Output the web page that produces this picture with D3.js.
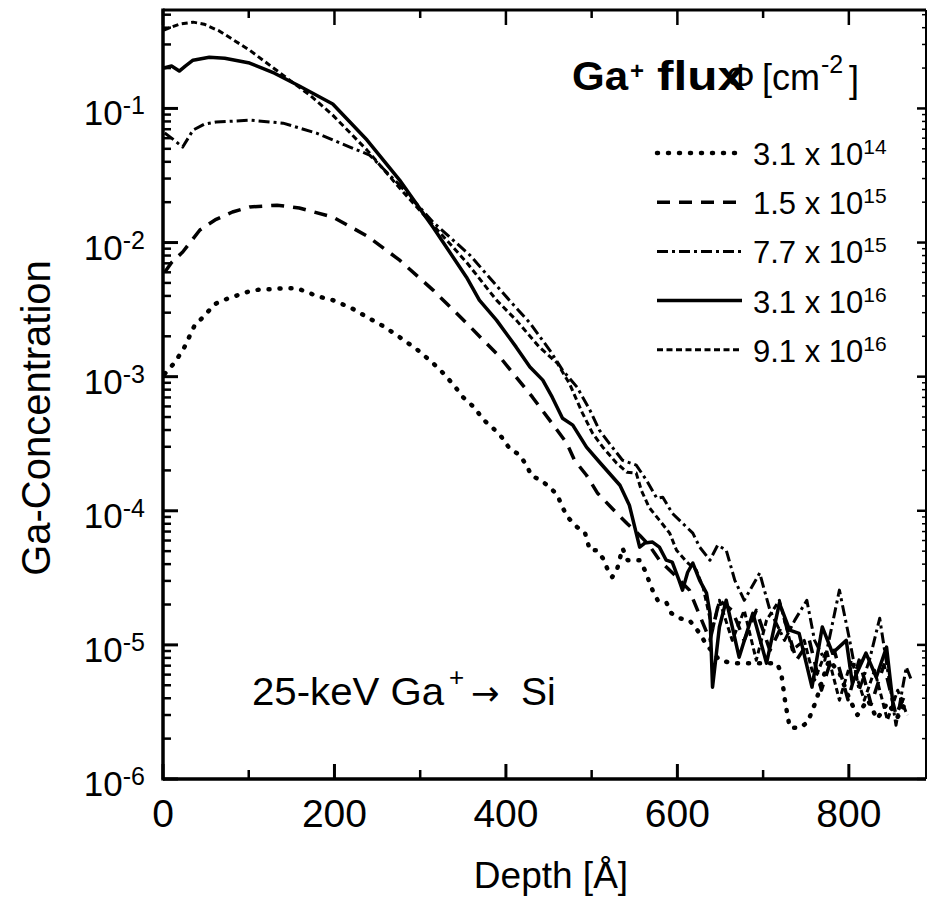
<!DOCTYPE html>
<html>
<head>
<meta charset="utf-8">
<script src="https://cdn.jsdelivr.net/npm/d3@7"></script>
<style>
  body { margin: 0; background: white; }
  text { font-family: "Liberation Sans", Arial, Helvetica, sans-serif; fill: black; }
</style>
</head>
<body>
<div id="container"></div>
<script>
// depth [A], Ga concentration
let flux31e14 = [[2,1.05e-3],[14,1.28e-3],[25,1.66e-3],[37,2.42e-3],[49,2.87e-3],[60,3.47e-3],[74,3.79e-3],[87,4.05e-3],[101,4.34e-3],[115,4.49e-3],[128,4.49e-3],[142,4.57e-3],[156,4.57e-3],[168,4.27e-3],[180,3.98e-3],[198,3.72e-3],[220,3.24e-3],[238,2.78e-3],[259,2.34e-3],[276,1.97e-3],[296,1.6e-3],[315,1.26e-3],[329,1.03e-3],[341,8.35e-4],[350,7.03e-4],[364,5.82e-4],[373,4.82e-4],[385,4.13e-4],[395,3.54e-4],[404,2.93e-4],[416,2.6e-4],[424,2.19e-4],[430,1.81e-4],[439,1.72e-4],[451,1.5e-4],[460,1.31e-4],[466,1.06e-4],[472,8.96e-5],[483,7.55e-5],[492,6.92e-5],[498,5.08e-5],[506,5.08e-5],[513,4.43e-5],[519,3.61e-5],[524,3.2e-5],[530,3.73e-5],[536,5.26e-5],[542,4.28e-5],[556,4.28e-5],[562,3.61e-5],[571,2.56e-5],[577,2.15e-5],[587,2.08e-5],[593,1.72e-5],[602,1.58e-5],[614,1.53e-5],[626,1.22e-5],[634,1.0e-5],[649,7.7e-6],[664,7.3e-6],[690,7.3e-6],[716,7.3e-6],[721,6.25e-6],[726,3.67e-6],[731,2.43e-6],[742,2.39e-6],[752,2.65e-6],[762,3.87e-6],[769,5.46e-6],[777,7.69e-6],[789,6.2e-6],[801,3.9e-6],[810,3.0e-6],[822,3.9e-6],[833,2.8e-6],[845,3.7e-6],[857,2.9e-6],[868,3.9e-6]];

let flux15e15 = [[2,6.0e-3],[10,7.1e-3],[23,8.5e-3],[31,9.9e-3],[43,1.24e-2],[62,1.49e-2],[81,1.69e-2],[101,1.84e-2],[133,1.9e-2],[159,1.81e-2],[198,1.55e-2],[238,1.12e-2],[276,7.39e-3],[315,4.42e-3],[354,2.51e-3],[393,1.4e-3],[431,7.03e-4],[451,4.74e-4],[471,3.19e-4],[480,2.38e-4],[494,1.84e-4],[507,1.35e-4],[524,1.04e-4],[541,8.07e-5],[556,6.57e-5],[567,5.54e-5],[579,4.28e-5],[597,3.31e-5],[614,2.56e-5],[626,1.66e-5],[638,1.08e-5],[649,2.15e-5],[664,1.81e-5],[678,1.08e-5],[692,1.81e-5],[708,9.1e-6],[725,1.53e-5],[739,7.7e-6],[754,1.08e-5],[768,4.6e-6],[783,9.1e-6],[799,3.9e-6],[812,7.7e-6],[826,3.6e-6],[841,7.1e-6],[855,3.0e-6],[868,4.6e-6]];

let flux77e15 = [[2,6.55e-2],[10,6.01e-2],[23,5.15e-2],[35,6.89e-2],[48,7.63e-2],[62,7.91e-2],[101,8.18e-2],[140,7.77e-2],[179,6.55e-2],[218,5.15e-2],[241,4.49e-2],[276,2.68e-2],[315,1.42e-2],[358,8.05e-3],[404,3.72e-3],[428,2.51e-3],[451,1.58e-3],[466,1.12e-3],[483,8.35e-4],[498,5.62e-4],[509,3.99e-4],[524,2.98e-4],[536,2.38e-4],[552,2.19e-4],[564,1.69e-4],[576,1.24e-4],[583,1.26e-4],[594,9.59e-5],[606,8.07e-5],[618,6.81e-5],[626,5.36e-5],[638,4.28e-5],[647,5.54e-5],[657,5.08e-5],[667,3.03e-5],[678,2.15e-5],[696,3.43e-5],[708,1.81e-5],[725,1.08e-5],[737,1.53e-5],[751,2.15e-5],[760,1.08e-5],[772,7.69e-6],[789,2.56e-5],[801,1.08e-5],[812,4.59e-6],[824,7.69e-6],[836,1.58e-5],[847,5.46e-6],[855,2.52e-6],[867,6.83e-6],[873,5.46e-6]];

let flux31e16 = [[1,0.2],[10,0.207],[19,0.19],[26,0.207],[35,0.229],[54,0.241],[72,0.237],[101,0.218],[130,0.183],[159,0.147],[198,0.108],[238,5.81e-2],[276,2.92e-2],[315,1.3e-2],[354,5.52e-3],[369,3.72e-3],[389,2.64e-3],[412,1.66e-3],[428,1.18e-3],[443,9.42e-4],[454,7.03e-4],[466,4.9e-4],[478,4.35e-4],[494,2.98e-4],[509,2.31e-4],[533,1.55e-4],[544,1.1e-4],[556,5.36e-5],[562,5.74e-5],[571,5.84e-5],[579,5.36e-5],[587,4.28e-5],[594,4.14e-5],[602,3.03e-5],[606,2.56e-5],[612,3.48e-5],[618,4.07e-5],[626,3.03e-5],[634,2.43e-5],[638,1.72e-5],[641,4.84e-6],[649,1.36e-5],[657,2.15e-5],[672,8.09e-6],[688,1.72e-5],[704,7.3e-6],[719,2.05e-5],[731,1.29e-5],[742,1.22e-5],[757,4.84e-6],[769,1.36e-5],[781,8.69e-6],[797,1.08e-5],[804,5.19e-6],[820,8.69e-6],[832,5.74e-6],[844,9.62e-6],[851,3.87e-6]];

let flux91e16 = [[1,0.384],[10,0.404],[19,0.425],[35,0.44],[48,0.425],[66,0.377],[101,0.272],[140,0.177],[171,0.126],[198,8.91e-2],[238,4.89e-2],[276,2.55e-2],[315,1.35e-2],[354,7.14e-3],[389,3.72e-3],[412,2.64e-3],[439,1.66e-3],[460,1.26e-3],[474,8.9e-4],[489,5.4e-4],[501,3.79e-4],[513,2.98e-4],[529,2.27e-4],[541,1.94e-4],[552,1.91e-4],[558,1.42e-4],[567,1.06e-4],[579,8.51e-5],[591,6.81e-5],[599,5.08e-5],[611,4.14e-5],[622,3.61e-5],[630,2.69e-5],[641,1.29e-5],[649,2.15e-5],[664,1.08e-5],[678,1.81e-5],[692,7.69e-6],[704,1.53e-5],[719,2.15e-5],[734,9.14e-6],[748,1.08e-5],[760,5.46e-6],[774,9.14e-6],[789,3.87e-6],[803,7.69e-6],[818,3.87e-6],[830,6.47e-6],[845,2.75e-6],[857,4.59e-6],[868,2.99e-6]];

let legendMantissa = ["3.1", "1.5", "7.7", "3.1", "9.1"];
let legendExponent = ["14", "15", "15", "16", "16"];

let xMajorTicks = [0, 200, 400, 600, 800];
let xMinorTicks = [100, 300, 500, 700];
let yExponents = [-1, -2, -3, -4, -5, -6];

let w = 927;
let h = 903;

let viz = d3.select("#container")
  .append("svg")
    .attr("width", w)
    .attr("height", h)
    .style("background-color", "white")
;

let plotLeft = 163, plotRight = 926, plotTop = 10, plotBottom = 779;

let xScale = d3.scaleLinear().domain([0, 890]).range([plotLeft, plotRight]);
let yScale = d3.scaleLog().domain([1e-6, 0.542]).range([plotBottom, plotTop]);

let yMajor = yExponents.map(function(e) { return Math.pow(10, e); });
let yMinor = [];
for (let e = -6; e <= -1; e++) {
  for (let m = 2; m <= 9; m++) {
    let v = m * Math.pow(10, e);
    if (v < 0.542) yMinor.push(v);
  }
}

// inward ticks on all four sides
let tickGroup = viz.append("g").attr("class", "ticks").attr("stroke", "black");

function xTicks(values, y0, len, sw) {
  tickGroup.selectAll(null).data(values).enter()
    .append("line")
      .attr("x1", function(d) { return xScale(d); })
      .attr("x2", function(d) { return xScale(d); })
      .attr("y1", y0)
      .attr("y2", y0 + len)
      .attr("stroke-width", sw);
}
function yTicks(values, x0, len, sw) {
  tickGroup.selectAll(null).data(values).enter()
    .append("line")
      .attr("y1", function(d) { return yScale(d); })
      .attr("y2", function(d) { return yScale(d); })
      .attr("x1", x0)
      .attr("x2", x0 + len)
      .attr("stroke-width", sw);
}

xTicks(xMajorTicks, plotBottom, -15, 3);
xTicks(xMinorTicks, plotBottom, -9, 2.5);
xTicks(xMajorTicks, plotTop, 15, 2.5);
xTicks(xMinorTicks, plotTop, 8, 2.5);
yTicks(yMajor, plotLeft, 15, 3);
yTicks(yMinor, plotLeft, 8, 2.5);
yTicks(yMajor, plotRight, -9, 2.5);
yTicks(yMinor, plotRight, -4, 1.5);

// frame
viz.append("line").attr("x1", plotLeft).attr("x2", plotLeft).attr("y1", plotTop - 1.5).attr("y2", plotBottom + 1.5)
  .attr("stroke", "black").attr("stroke-width", 3.5);
viz.append("line").attr("x1", plotLeft).attr("x2", plotRight).attr("y1", plotBottom).attr("y2", plotBottom)
  .attr("stroke", "black").attr("stroke-width", 3.5);
viz.append("line").attr("x1", plotLeft).attr("x2", plotRight).attr("y1", plotTop).attr("y2", plotTop)
  .attr("stroke", "black").attr("stroke-width", 3);
viz.append("line").attr("x1", plotRight).attr("x2", plotRight).attr("y1", plotTop).attr("y2", plotBottom)
  .attr("stroke", "black").attr("stroke-width", 2);

// x tick labels
viz.selectAll(".xlabel").data(xMajorTicks).enter()
  .append("text")
    .attr("class", "xlabel")
    .attr("x", function(d) { return xScale(d); })
    .attr("y", 827)
    .attr("text-anchor", "middle")
    .style("font-size", "39px")
    .text(function(d) { return d; });

// y tick labels 10^-n
yExponents.forEach(function(e) {
  let t = viz.append("text")
    .attr("x", 145)
    .attr("y", yScale(Math.pow(10, e)) + 17)
    .attr("text-anchor", "end")
    .style("font-size", "35px");
  t.append("tspan").text("10");
  t.append("tspan").attr("dy", -11).style("font-size", "25px").text("-" + Math.abs(e));
});

// axis titles
viz.append("text")
  .attr("x", 551).attr("y", 888)
  .attr("text-anchor", "middle")
  .style("font-size", "37px")
  .text("Depth [Å]");

viz.append("text")
  .attr("transform", "translate(50,418) rotate(-90)")
  .attr("text-anchor", "middle")
  .style("font-size", "40px")
  .text("Ga-Concentration");

// curves
let series = [
  { data: flux31e14, dash: "1,10", width: 4.5, cap: "round" },
  { data: flux15e15, dash: "13,9", width: 3.5, cap: "butt" },
  { data: flux77e15, dash: "11,4,3,4", width: 3, cap: "butt" },
  { data: flux31e16, dash: null, width: 3.5, cap: "butt" },
  { data: flux91e16, dash: "6,3.5", width: 3, cap: "butt" }
];

viz.append("clipPath").attr("id", "plotclip")
  .append("rect")
    .attr("x", plotLeft).attr("y", plotTop)
    .attr("width", plotRight - plotLeft).attr("height", plotBottom - plotTop);

let lineMaker = d3.line()
  .x(function(d) { return xScale(d[0]); })
  .y(function(d) { return yScale(d[1]); });

let curveGroup = viz.append("g").attr("clip-path", "url(#plotclip)");
curveGroup.selectAll(".curve").data(series).enter()
  .append("path")
    .attr("class", "curve")
    .attr("d", function(d) { return lineMaker(d.data); })
    .attr("fill", "none")
    .attr("stroke", "black")
    .attr("stroke-width", function(d) { return d.width; })
    .attr("stroke-dasharray", function(d) { return d.dash; })
    .attr("stroke-linecap", function(d) { return d.cap; })
    .attr("stroke-linejoin", "round")
;

// legend title
viz.append("text").attr("x", 572).attr("y", 90)
  .attr("textLength", 56).attr("lengthAdjust", "spacingAndGlyphs")
  .style("font-size", "40px").style("font-weight", "bold").text("Ga");
viz.append("text").attr("x", 630).attr("y", 79)
  .style("font-size", "24px").style("font-weight", "bold").text("+");
viz.append("text").attr("x", 657).attr("y", 90)
  .attr("textLength", 88).attr("lengthAdjust", "spacingAndGlyphs")
  .style("font-size", "40px").style("font-weight", "bold").text("flux");

viz.append("text").attr("x", 726).attr("y", 90).style("font-size", "36px").text("Φ");
viz.append("text").attr("x", 762).attr("y", 90).style("font-size", "36px").text("[cm");
viz.append("text").attr("x", 821).attr("y", 73).style("font-size", "25px").text("-2");
viz.append("text").attr("x", 849).attr("y", 92).style("font-size", "36px").text("]");

let legendRows = viz.selectAll(".legendrow").data(series).enter()
  .append("g")
    .attr("class", "legendrow")
    .attr("transform", function(d, i) { return "translate(0," + (165 + i * 49.2) + ")"; })
;
legendRows.append("line")
  .attr("x1", 657).attr("x2", 742).attr("y1", -12).attr("y2", -12)
  .attr("stroke", "black")
  .attr("stroke-width", function(d) { return d.width; })
  .attr("stroke-dasharray", function(d) { return d.dash; })
  .attr("stroke-linecap", function(d) { return d.cap; });
let legendText = legendRows.append("text")
  .attr("x", 753).attr("y", 0)
  .style("font-size", "31px");
legendText.append("tspan").text(function(d, i) { return legendMantissa[i] + " x 10"; });
legendText.append("tspan").attr("dy", -11).style("font-size", "21px")
  .text(function(d, i) { return legendExponent[i]; });

// annotation
viz.append("text").attr("x", 252).attr("y", 705)
  .attr("textLength", 192).attr("lengthAdjust", "spacingAndGlyphs")
  .style("font-size", "39px").text("25-keV Ga");
viz.append("text").attr("x", 449).attr("y", 686).style("font-size", "26px").text("+");
viz.append("text").attr("x", 471).attr("y", 705).style("font-size", "34px")
  .style("font-family", "'DejaVu Sans', sans-serif").text("→");
viz.append("text").attr("x", 521).attr("y", 705).style("font-size", "39px").text("Si");
</script>
</body>
</html>
